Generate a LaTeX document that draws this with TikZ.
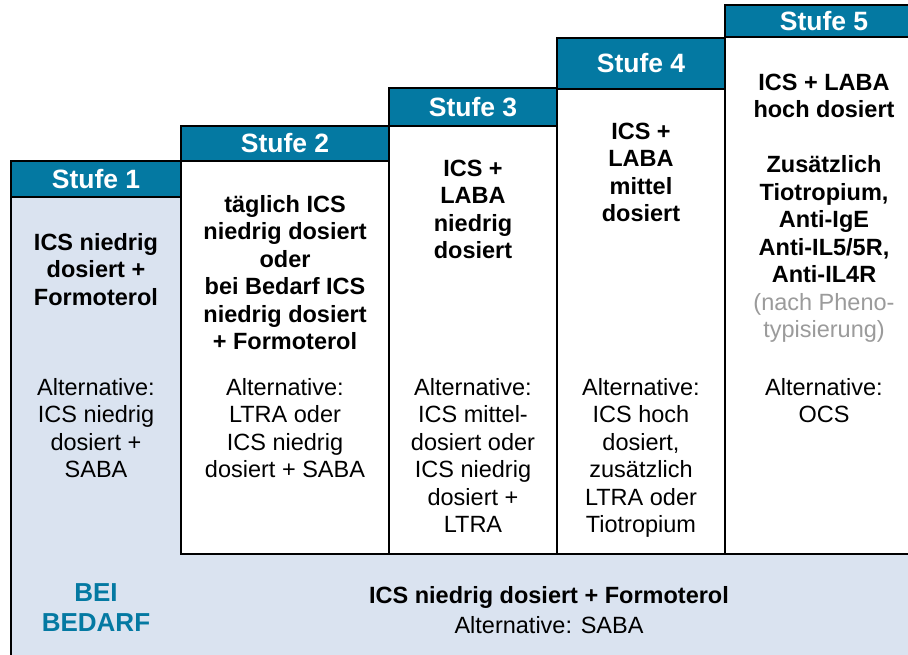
\documentclass[tikz,border=0pt]{standalone}
\usepackage{fontspec}
\setmainfont{Liberation Sans}
\definecolor{hdrblue}{RGB}{4,121,162}
\definecolor{lightbg}{RGB}{218,227,240}
\definecolor{graytxt}{RGB}{155,155,155}
\tikzset{
  frame/.style={draw=black, line width=2.4pt},
  hdrbox/.style={frame, fill=hdrblue},
  colbox/.style={frame, fill=white},
  htext/.style={font=\fontsize{26.5}{30}\selectfont\bfseries, text=white, inner sep=0pt},
  btext/.style={font=\fontsize{23.5}{27.5}\selectfont\bfseries, align=center, anchor=north, inner sep=0pt},
  rtext/.style={font=\fontsize{23.5}{27.5}\selectfont, align=center, anchor=north, inner sep=0pt},
}
\begin{document}
\begin{tikzpicture}[x=1pt,y=-1pt]
\useasboundingbox (0,0) rectangle (908,654);
\clip (0,0) rectangle (908,654);
% light background (Stufe 1 column and bottom band)
\fill[lightbg] (11,161) rectangle (940,670);
\draw[frame] (11,670) -- (11,161);
% column boxes
\draw[colbox] (181,161) rectangle (389,554);
\draw[colbox] (389,126) rectangle (557,554);
\draw[colbox] (557,89) rectangle (725,554);
\draw[colbox] (725,37) rectangle (925,554);
% headers
\draw[hdrbox] (11,161) rectangle (181,197);
\draw[hdrbox] (181,126) rectangle (389,161);
\draw[hdrbox] (389,88) rectangle (557,126);
\draw[hdrbox] (557,38) rectangle (725,89);
\draw[hdrbox] (725,5) rectangle (925,37);
\node[htext] (h1) at (96,179.5) {Stufe 1};
\node[htext] (h2) at (285,143.5) {Stufe 2};
\node[htext] (h3) at (473,107) {Stufe 3};
\node[htext] (h4) at (641,63.5) {Stufe 4};
\node[htext] (h5) at (824,21) {Stufe 5};
% main texts
\node[btext] (m1) at (96,230.75) {\strut ICS niedrig\\dosiert +\\Formoterol};
\node[btext] (m2) at (285,192.75) {\strut täglich ICS\\niedrig dosiert\\oder\\bei Bedarf ICS\\niedrig dosiert\\+ Formoterol};
\node[btext] (m3) at (473,156.75) {\strut ICS +\\LABA\\niedrig\\dosiert};
\node[btext] (m4) at (641,119.75) {\strut ICS +\\LABA\\mittel\\dosiert};
\node[btext] (m5) at (824,70.75) {\strut ICS + LABA\\hoch dosiert\\[27.5pt]Zusätzlich\\Tiotropium,\\Anti-IgE\\Anti-IL5/5R,\\Anti-IL4R\\\textcolor{graytxt}{\mdseries (nach Pheno-}\\\textcolor{graytxt}{\mdseries typisierung)}};
% alternatives
\node[rtext] (a1) at (96,375.75) {\strut Alternative:\\ICS niedrig\\dosiert +\\SABA};
\node[rtext] (a2) at (285,375.75) {\strut Alternative:\\LTRA oder\\ICS niedrig\\dosiert + SABA};
\node[rtext] (a3) at (473,375.75) {\strut Alternative:\\ICS mittel-\\dosiert oder\\ICS niedrig\\dosiert +\\LTRA};
\node[rtext] (a4) at (641,375.75) {\strut Alternative:\\ICS hoch\\dosiert,\\zusätzlich\\LTRA oder\\Tiotropium};
\node[rtext] (a5) at (824,375.75) {\strut Alternative:\\OCS};
% bottom band
\node[font=\fontsize{26}{30}\selectfont\bfseries, text=hdrblue, align=center, anchor=north, inner sep=0pt] (bb) at (96,580) {\strut BEI\\BEDARF};
\node[font=\fontsize{23.5}{30}\selectfont, align=center, anchor=north, inner sep=0pt] (bt) at (549,582) {\strut\textbf{ICS niedrig dosiert + Formoterol}\\Alternative: SABA};
\end{tikzpicture}
\end{document}
